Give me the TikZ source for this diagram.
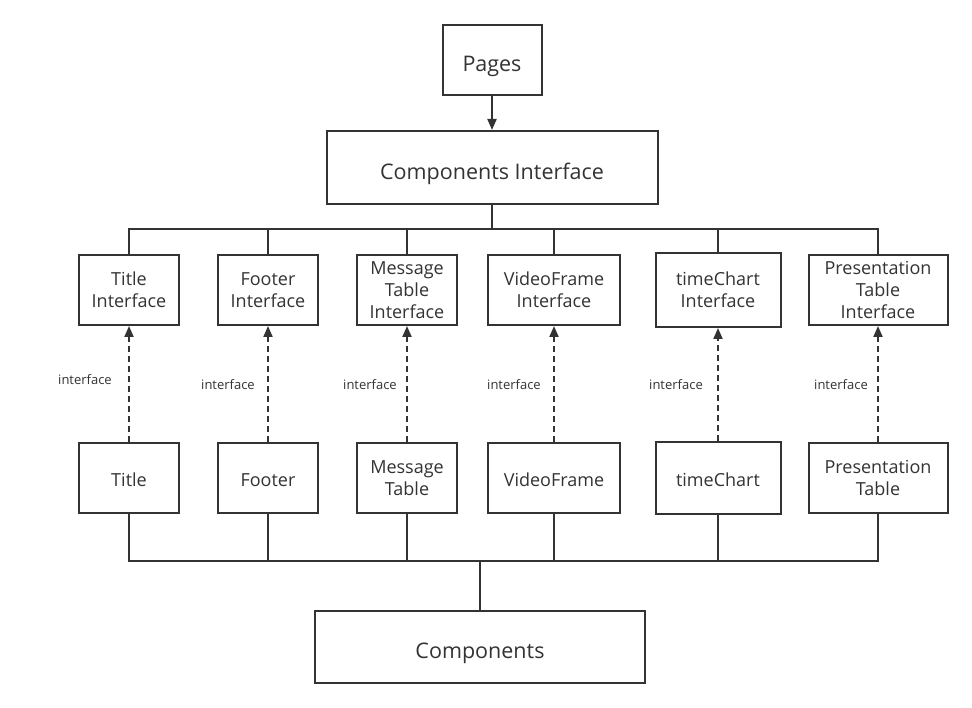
\documentclass[tikz,border=0pt]{standalone}
\usepackage{fontspec}
\setmainfont{Open Sans}
\usetikzlibrary{arrows.meta}
\definecolor{ink}{HTML}{333333}
\begin{document}
\begin{tikzpicture}[x=1pt,y=-1pt,
  box/.style={draw=ink,line width=2pt,fill=white,inner sep=0pt,align=center,
    font=\fontsize{18}{22}\selectfont,text=ink,
    execute at begin node={\rule{0pt}{16.7pt}}},
  bigbox/.style={draw=ink,line width=2pt,fill=white,inner sep=0pt,align=center,
    font=\fontsize{21.5}{26}\selectfont,text=ink,
    execute at begin node={\rule{0pt}{29pt}}},
  wire/.style={draw=ink,line width=2pt},
  impl/.style={draw=ink,line width=2pt,dash pattern=on 6pt off 4pt,
    -{Triangle[width=9pt,length=11pt]}},
  lbl/.style={font=\fontsize{13}{15}\selectfont,text=ink,inner sep=0pt}]
\useasboundingbox (0,0) rectangle (972,708);
% top
\node[bigbox,minimum width=99pt,minimum height=70pt] (pages) at (492,60) {Pages};
\node[bigbox,minimum width=331pt,minimum height=73pt] (ci) at (492,167.5) {Components Interface};
\draw[wire,-{Triangle[width=9pt,length=11pt]}] (pages.south) -- (ci.north);
% interfaces
\node[box,minimum width=100pt,minimum height=70pt] (i1) at (129,290) {Title\\Interface};
\node[box,minimum width=100pt,minimum height=70pt] (i2) at (268,290) {Footer\\Interface};
\node[box,minimum width=100pt,minimum height=70pt] (i3) at (407,290) {Message\\Table\\Interface};
\node[box,minimum width=132pt,minimum height=70pt] (i4) at (554,290) {VideoFrame\\Interface};
\node[box,minimum width=125pt,minimum height=74pt] (i5) at (718,290) {timeChart\\Interface};
\node[box,minimum width=139pt,minimum height=70pt] (i6) at (878,290) {Presentation\\Table\\Interface};
% implementations
\node[box,minimum width=100pt,minimum height=70pt] (b1) at (129,478) {Title};
\node[box,minimum width=100pt,minimum height=70pt] (b2) at (268,478) {Footer};
\node[box,minimum width=100pt,minimum height=70pt] (b3) at (407,478) {Message\\Table};
\node[box,minimum width=132pt,minimum height=70pt] (b4) at (554,478) {VideoFrame};
\node[box,minimum width=125pt,minimum height=72pt] (b5) at (718,478) {timeChart};
\node[box,minimum width=139pt,minimum height=70pt] (b6) at (878,478) {Presentation\\Table};
% components
\node[bigbox,minimum width=330pt,minimum height=72pt] (comp) at (480,647) {Components};
% top bus
\coordinate (topbus) at (0,229);
\draw[wire] (ci.south) -- (ci.south |- topbus);
\draw[wire] (i1.north) -- (i1.north |- topbus) -- (i6.north |- topbus) -- (i6.north);
\foreach \k in {2,3,4,5} \draw[wire] (i\k.north) -- (i\k.north |- topbus);
% bottom bus
\coordinate (botbus) at (0,561);
\draw[wire] (b1.south) -- (b1.south |- botbus) -- (b6.south |- botbus) -- (b6.south);
\foreach \k in {2,3,4,5} \draw[wire] (b\k.south) -- (b\k.south |- botbus);
\draw[wire] (comp.north) -- (comp.north |- botbus);
% dashed realisations
\foreach \k in {1,...,6} \draw[impl] (b\k.north) -- (i\k.south);
% labels
\node[lbl] (l1) at (85,380) {interface};
\node[lbl] (l2) at (228,385) {interface};
\node[lbl] (l3) at (370,385) {interface};
\node[lbl] (l4) at (514,385) {interface};
\node[lbl] (l5) at (676,385) {interface};
\node[lbl] (l6) at (841,385) {interface};
\end{tikzpicture}
\end{document}
